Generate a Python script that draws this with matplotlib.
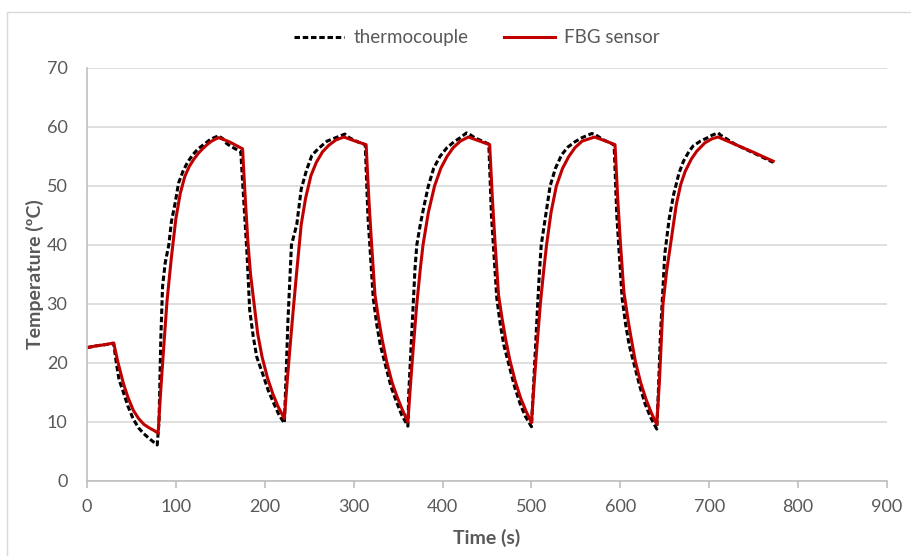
import matplotlib.pyplot as plt
from matplotlib.patches import Rectangle

# FBG sensor (red solid), time in s / temperature in degC
fbg_t = [0, 10, 20, 30, 35, 41, 46, 52, 58, 64, 70, 75, 80,
         83, 86, 90, 95, 100, 105, 110, 115, 120, 125, 130, 135, 140, 148, 160, 175,
         178, 181, 184, 188, 192, 197, 203, 209, 215, 222,
         225, 228, 232, 236, 241, 246, 252, 258, 265, 272, 280, 289, 300, 314,
         317, 320, 324, 328, 332, 337, 343, 349, 355, 361,
         364, 367, 371, 375, 378, 384, 391, 398, 405, 412, 420, 429, 440, 453,
         456, 459, 463, 467, 471, 476, 482, 488, 494, 500,
         503, 506, 510, 514, 517, 522, 528, 535, 542, 549, 557, 571, 582, 594,
         597, 600, 604, 609, 613, 617, 623, 629, 635, 641,
         644, 648, 652, 656, 663, 668, 673, 680, 686, 695, 703, 710,
         730, 750, 772]
fbg_v = [22.6, 22.9, 23.1, 23.4, 20.0, 16.5, 14.2, 12.0, 10.6, 9.6, 9.0, 8.6, 8.1,
         15.5, 22.0, 30.5, 38.0, 44.5, 48.8, 51.6, 53.3, 54.5, 55.5, 56.3, 57.0, 57.6, 58.2, 57.5, 56.3,
         48.0, 40.5, 35.0, 30.0, 25.0, 21.0, 17.5, 14.8, 12.6, 10.6,
         16.5, 22.0, 29.0, 35.6, 43.5, 48.0, 51.8, 54.0, 55.8, 56.9, 57.8, 58.3, 57.7, 57.0,
         48.0, 40.5, 31.5, 27.5, 24.0, 20.3, 16.8, 14.2, 12.0, 10.0,
         16.5, 22.5, 30.0, 36.0, 40.0, 45.5, 50.0, 53.0, 55.0, 56.5, 57.6, 58.3, 57.7, 57.0,
         48.0, 40.5, 31.5, 27.5, 24.0, 20.3, 16.8, 14.0, 11.8, 9.9,
         16.5, 22.5, 30.0, 36.0, 40.0, 45.5, 50.0, 53.0, 55.0, 56.5, 57.6, 58.3, 57.7, 57.0,
         48.0, 40.5, 32.0, 27.0, 23.5, 20.2, 16.6, 13.8, 11.5, 9.6,
         17.0, 30.0, 35.5, 39.6, 46.9, 50.3, 52.5, 54.6, 55.9, 57.3, 58.0, 58.3,
         57.0, 55.7, 54.2]

# thermocouple (black dashed)
tc_t = [0, 10, 20, 30, 33, 36, 41, 46, 52, 58, 64, 70, 75, 79,
        81, 83, 85, 88, 92, 95, 99, 103, 108, 113, 119, 125, 131, 138, 143, 148, 153, 157, 162, 168, 173,
        177, 180, 183, 187, 191, 198, 204, 210, 216, 222,
        224, 226, 230, 236, 241, 247, 253, 260, 270, 280, 290, 295, 300, 306, 313,
        316, 319, 322, 326, 330, 336, 342, 348, 354, 361,
        362, 365, 367, 369, 371, 375, 379, 384, 390, 397, 405, 413, 420, 427, 431, 437, 445, 452,
        455, 458, 461, 465, 469, 475, 481, 487, 493, 500,
        502, 505, 507, 509, 511, 516, 521, 527, 534, 541, 549, 557, 568, 574, 580, 587, 593,
        596, 599, 602, 606, 610, 616, 622, 628, 634, 641,
        643, 645, 650, 655, 660, 666, 671, 677, 682, 690, 697, 703, 710,
        713, 730, 750, 772]
tc_v = [22.6, 22.9, 23.1, 23.3, 20.0, 17.2, 15.0, 12.7, 10.5, 9.0, 8.0, 7.2, 6.6, 6.1,
        10.0, 24.0, 33.0, 37.0, 40.0, 44.0, 47.0, 50.5, 52.5, 54.0, 55.3, 56.3, 57.0, 57.8, 58.2, 58.5, 58.0, 57.2, 56.7, 56.2, 55.8,
        46.0, 38.5, 29.0, 24.5, 21.0, 18.0, 15.3, 13.2, 11.2, 9.8,
        18.0, 27.0, 40.0, 43.5, 49.5, 52.7, 55.2, 56.3, 57.6, 58.2, 58.8, 58.2, 57.8, 57.4, 57.0,
        45.0, 38.0, 31.0, 26.5, 23.0, 19.5, 16.0, 13.5, 11.2, 9.3,
        15.0, 24.0, 30.0, 36.0, 40.0, 43.5, 46.5, 50.0, 53.0, 55.0, 56.5, 57.5, 58.2, 59.0, 58.7, 58.1, 57.6, 57.1,
        45.0, 38.0, 31.0, 26.5, 23.0, 19.5, 16.0, 13.2, 11.0, 9.2,
        15.0, 24.0, 30.0, 35.5, 40.0, 45.0, 50.0, 53.0, 55.3, 56.6, 57.5, 58.2, 58.9, 58.5, 57.9, 57.4, 57.0,
        45.0, 38.0, 31.0, 26.5, 23.0, 19.5, 16.0, 13.0, 10.8, 8.8,
        16.0, 24.5, 38.5, 44.5, 48.6, 52.2, 54.2, 55.8, 56.8, 57.6, 58.1, 58.6, 59.0,
        58.6, 57.0, 55.6, 54.0]

x_ticks = [0, 100, 200, 300, 400, 500, 600, 700, 800, 900]
y_ticks = [0, 10, 20, 30, 40, 50, 60, 70]

plt.rcParams['font.family'] = ['Lato', 'DejaVu Sans']
grey_txt = '#595959'
grid_col = '#d9d9d9'

fig = plt.figure(figsize=(9.12, 5.56), dpi=100)
ax = fig.add_axes([0.0954, 0.1349, 0.8772, 0.7428])

# thin chart border like the Excel chart area
fig.patches.append(Rectangle((7 / 912, -0.05), 1.0, 1.05 - 12 / 556,
                             transform=fig.transFigure, fill=False,
                             edgecolor=grid_col, linewidth=1))

ax.plot(tc_t, tc_v, color='black', linewidth=2.2,
        linestyle=(0, (1.8, 0.9)), label='thermocouple')
ax.plot(fbg_t, fbg_v, color='#c00000', linewidth=2.2,
        label='FBG sensor')

ax.set_xlim(0, 900)
ax.set_ylim(0, 70)
ax.set_xticks(x_ticks)
ax.set_yticks(y_ticks)
ax.grid(axis='y', color=grid_col, linewidth=1.2)
ax.set_axisbelow(True)

for s in ['top', 'right']:
    ax.spines[s].set_visible(False)
for s in ['left', 'bottom']:
    ax.spines[s].set_color('#bfbfbf')
    ax.spines[s].set_linewidth(1.2)

ax.tick_params(axis='x', direction='out', length=5, width=1.2,
               color='#bfbfbf', labelcolor=grey_txt, labelsize=13, pad=8)
ax.tick_params(axis='y', length=0, labelcolor=grey_txt, labelsize=13, pad=14)

ax.set_xlabel('Time (s)', fontsize=14, fontweight='bold', color=grey_txt, labelpad=10)
ax.set_ylabel('Temperature (ºC)', fontsize=14, fontweight='bold', color=grey_txt, labelpad=2)

fig.legend(loc='center', bbox_to_anchor=(0.523, 0.932), ncol=2, frameon=False,
           fontsize=13.5, handlelength=2.7, handletextpad=0.5, columnspacing=1.9,
           labelcolor=grey_txt)

fig.savefig('out.png', dpi=100)
